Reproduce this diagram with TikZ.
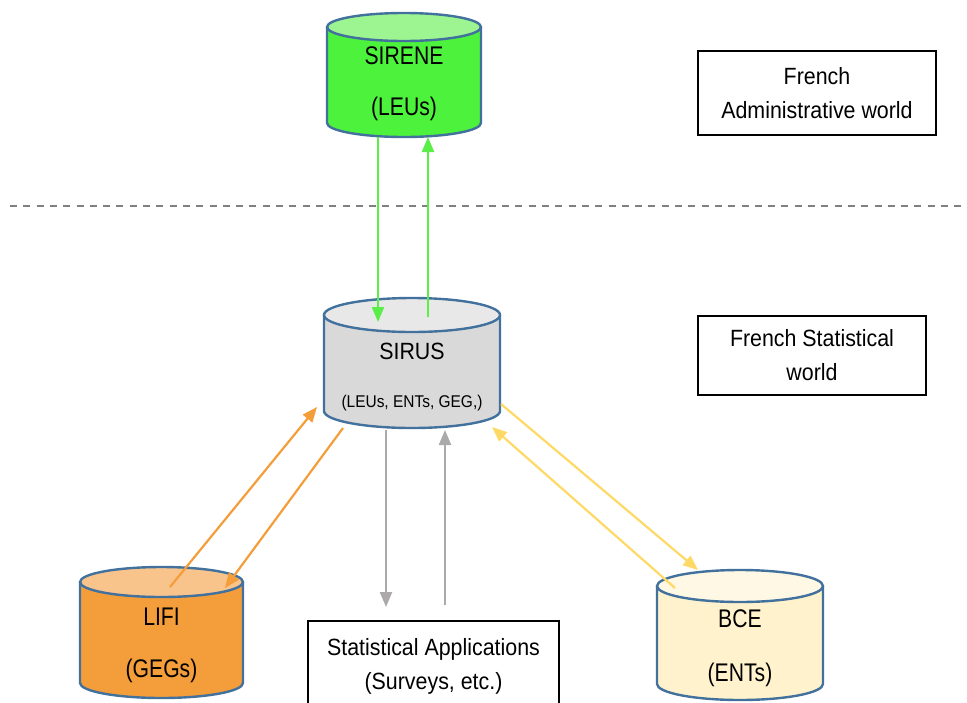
\documentclass[tikz,border=0pt]{standalone}
\usepackage{fontspec}
\setmainfont[FakeStretch=0.91]{Liberation Sans}
\newfontfamily\dbfont[FakeStretch=0.83]{Liberation Sans}
\usetikzlibrary{arrows.meta,positioning}
\definecolor{dbline}{HTML}{41719C}
\definecolor{sirenebody}{HTML}{4DF23D}
\definecolor{sirenetop}{HTML}{9DF591}
\definecolor{sirusbody}{HTML}{D9D9D9}
\definecolor{sirustop}{HTML}{E8E8E8}
\definecolor{lifibody}{HTML}{F39D3B}
\definecolor{lifitop}{HTML}{F8C48C}
\definecolor{bcebody}{HTML}{FFF2CC}
\definecolor{bcetop}{HTML}{FFF8E4}
\definecolor{greenarrow}{HTML}{5AEF48}
\definecolor{orangearrow}{HTML}{F39D3B}
\definecolor{grayarrow}{HTML}{ABA9A9}
\definecolor{yellowarrow}{HTML}{FFD966}
% database can: centre x, top y, bottom y, x radius, y radius, body, lid
\newcommand{\dbcan}[7]{%
  \path[fill=#6, draw=dbline, line width=2.4pt]
    (#1-#4,#2+#5) -- (#1-#4,#3-#5)
    arc[start angle=180, end angle=0, x radius=#4, y radius=#5]
    -- (#1+#4,#2+#5);
  \path[fill=#7, draw=dbline, line width=2.4pt]
    (#1,#2+#5) ellipse[x radius=#4, y radius=#5];
}
\tikzset{
  dbtext/.style={align=center, inner sep=0pt,
    font=\dbfont\fontsize{25.5pt}{30pt}\selectfont},
  worldbox/.style={draw, line width=1.2pt, align=center,
    font=\fontsize{23.5pt}{34pt}\selectfont},
  flow/.style={line width=2.2pt, -{Triangle[length=15pt,width=12pt]}}
}
\begin{document}
\begin{tikzpicture}[x=1pt, y=-1pt]
\useasboundingbox (0,0) rectangle (967,702);
% databases
\dbcan{404}{13}{137}{77}{14}{sirenebody}{sirenetop}
\node[dbtext] (sirene) at (404,83.6) {SIRENE\\[21.7pt](LEUs)};
\dbcan{412}{298}{428}{88}{17}{sirusbody}{sirustop}
\node[dbtext, font=\fontsize{23.5pt}{28pt}\selectfont] (sirus) at (412,376.9)
  {SIRUS\\[19.3pt]{\fontsize{17pt}{20pt}\selectfont (LEUs, ENTs, GEG,)}};
\dbcan{161.5}{567}{698}{81.5}{15}{lifibody}{lifitop}
\node[dbtext] (lifi) at (161.5,645.6) {LIFI\\[22.3pt](GEGs)};
\dbcan{740}{570}{700}{83}{16}{bcebody}{bcetop}
\node[dbtext] (bce) at (740,648.1) {BCE\\[24pt](ENTs)};
% boxes
\node[worldbox, minimum width=238pt, minimum height=84pt] (admin) at (817,93)
  {French\\Administrative world};
\node[worldbox, minimum width=228pt, minimum height=79pt] (stat) at (812,355.5)
  {French Statistical\\world};
\node[worldbox, minimum width=251pt, minimum height=90pt] (apps) at (433.5,666)
  {Statistical Applications\\(Surveys, etc.)};
% border between the two worlds
\coordinate (lineleft) at (10,206);
\coordinate (lineright) at (967,206);
\draw[gray, line width=1.6pt, dash pattern=on 7pt off 6.3pt] (lineleft) -- (lineright);
% exchanges
\draw[flow, greenarrow] ([shift={(-26,53.4)}]sirene.center) -- ([shift={(-34,-54.9)}]sirus.center);
\draw[flow, greenarrow] ([shift={(16,-59.9)}]sirus.center) -- ([shift={(24,53.4)}]sirene.center);
\draw[flow, orangearrow] ([shift={(8.5,-58.6)}]lifi.center) -- ([shift={(-95,30.1)}]sirus.center);
\draw[flow, orangearrow] ([shift={(-69,51.1)}]sirus.center) -- ([shift={(63.5,-57.6)}]lifi.center);
\draw[flow, grayarrow] ([shift={(-26,53.1)}]sirus.center) -- ([shift={(-47.5,-59)}]apps.center);
\draw[flow, grayarrow] ([shift={(11.5,-61)}]apps.center) -- ([shift={(33,53.1)}]sirus.center);
\draw[flow, yellowarrow] ([shift={(89,27.1)}]sirus.center) -- ([shift={(-42,-78.1)}]bce.center);
\draw[flow, yellowarrow] ([shift={(-65,-60.1)}]bce.center) -- ([shift={(80,50.1)}]sirus.center);
\end{tikzpicture}
\end{document}
